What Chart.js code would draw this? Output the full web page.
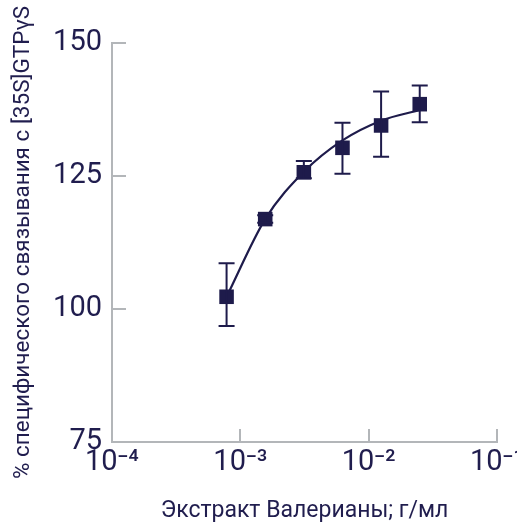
<!DOCTYPE html>
<html>
<head>
<meta charset="utf-8">
<script src="https://cdn.jsdelivr.net/npm/chart.js@4"></script>
<style>
html, body { margin: 0; padding: 0; background: #ffffff; }
#wrap { width: 517px; height: 525px; position: relative; }
</style>
</head>
<body>
<div id="wrap"><canvas id="c"></canvas></div>
<script>
// ---- data ----
const concentrations = [0.00078125, 0.0015625, 0.003125, 0.00625, 0.0125, 0.025];
const binding        = [102.3, 116.9, 125.7, 130.3, 134.5, 138.5];
const errorHigh      = [108.6, 117.6, 127.8, 135.0, 140.9, 142.0];
const errorLow       = [96.8, 116.2, 124.6, 125.4, 128.6, 135.1];

// fitted curve
const fitX = [0.00078125, 0.0015625, 0.003125, 0.00625, 0.0125, 0.025];
const fitY = [102.3, 116.9, 125.8, 131.7, 135.4, 137.4];

const xTickValues = [0.0001, 0.001, 0.01, 0.1];
const xTickLabels = ['10⁻⁴', '10⁻³', '10⁻²', '10⁻¹'];
const yTickValues = [75, 100, 125, 150];

const xTitle = 'Экстракт Валерианы; г/мл';
const yTitle = '% специфического связывания с [35S]GTPγS';

// ---- styling ----
const NAVY = '#1e1b4b';
const TEXT = '#201d4e';
const GREY = '#b3b6b9';
Chart.defaults.font.family = 'Roboto';

const customPlugin = {
  id: 'customMarks',
  beforeDatasetsDraw(chart) {
    const ctx = chart.ctx;
    const area = chart.chartArea;
    const xs = chart.scales.x, ys = chart.scales.y;
    ctx.save();
    ctx.strokeStyle = GREY;
    ctx.lineWidth = 2;
    ctx.beginPath();
    ys.ticks.forEach(t => {
      const py = Math.round(ys.getPixelForValue(t.value));
      ctx.moveTo(area.left, py);
      ctx.lineTo(area.left + 14, py);
    });
    xs.ticks.forEach(t => {
      const px = Math.round(xs.getPixelForValue(t.value));
      ctx.moveTo(px, area.bottom);
      ctx.lineTo(px, area.bottom - 13);
    });
    ctx.stroke();
    ctx.restore();
  },
  afterDatasetsDraw(chart) {
    const ctx = chart.ctx;
    const xs = chart.scales.x, ys = chart.scales.y;
    ctx.save();
    ctx.strokeStyle = NAVY;
    ctx.lineWidth = 2;
    ctx.beginPath();
    concentrations.forEach((c, i) => {
      const px = xs.getPixelForValue(c);
      const yh = ys.getPixelForValue(errorHigh[i]);
      const yl = ys.getPixelForValue(errorLow[i]);
      ctx.moveTo(px, yh); ctx.lineTo(px, yl);
      ctx.moveTo(px - 8, yh); ctx.lineTo(px + 8, yh);
      ctx.moveTo(px - 8, yl); ctx.lineTo(px + 8, yl);
    });
    ctx.stroke();
    ctx.restore();
  }
};

new Chart(document.getElementById('c'), {
  type: 'line',
  data: {
    datasets: [
      {
        label: 'fit',
        data: fitX.map((x, i) => ({ x: x, y: fitY[i] })),
        borderColor: NAVY,
        borderWidth: 2.2,
        pointRadius: 0,
        fill: false,
        cubicInterpolationMode: 'monotone',
        order: 2
      },
      {
        label: 'binding',
        data: concentrations.map((x, i) => ({ x: x, y: binding[i] })),
        showLine: false,
        pointStyle: 'rect',
        pointRadius: 10.3,
        pointBackgroundColor: NAVY,
        pointBorderWidth: 0,
        order: 1
      }
    ]
  },
  options: {
    responsive: true,
    maintainAspectRatio: false,
    animation: false,
    layout: { padding: { top: 43, right: 20, bottom: 0, left: 0 } },
    plugins: { legend: { display: false }, tooltip: { enabled: false } },
    scales: {
      x: {
        type: 'logarithmic',
        position: 'bottom',
        min: xTickValues[0],
        max: xTickValues[xTickValues.length - 1],
        afterBuildTicks: s => { s.ticks = xTickValues.map(v => ({ value: v })); },
        ticks: {
          autoSkip: false,
          maxRotation: 0,
          minRotation: 0,
          padding: 3,
          color: TEXT,
          font: { size: 29 },
          callback: (v, i) => xTickLabels[i]
        },
        grid: { drawOnChartArea: false, drawTicks: false },
        border: { display: true, color: GREY, width: 2 },
        title: {
          display: true,
          text: xTitle,
          color: TEXT,
          font: { size: 23 },
          padding: { top: 0, bottom: 0 }
        },
        afterFit: s => { s.height = 83; s.paddingLeft = 0; s.paddingRight = 0; }
      },
      y: {
        type: 'linear',
        min: yTickValues[0],
        max: yTickValues[yTickValues.length - 1],
        afterBuildTicks: s => { s.ticks = yTickValues.map(v => ({ value: v })); },
        ticks: {
          padding: 10,
          color: TEXT,
          font: { size: 29 }
        },
        grid: { drawOnChartArea: false, drawTicks: false },
        border: { display: true, color: GREY, width: 2 },
        title: {
          display: true,
          text: yTitle,
          color: TEXT,
          font: { size: 22.5 },
          padding: { top: 10, bottom: 0 }
        },
        afterFit: s => { s.width = 112; s.paddingTop = 0; s.paddingBottom = 0; }
      }
    }
  },
  plugins: [customPlugin]
});
</script>
</body>
</html>
